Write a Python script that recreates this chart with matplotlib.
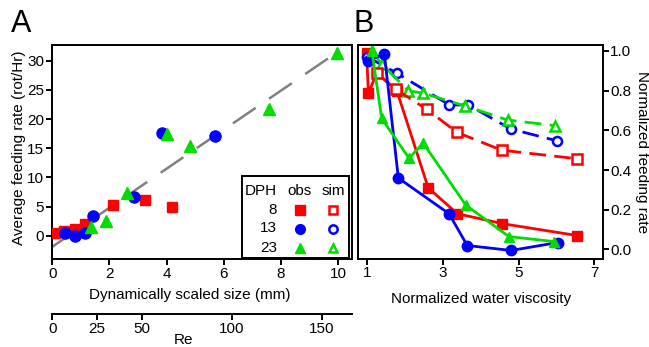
import matplotlib
matplotlib.use("Agg")
import matplotlib.pyplot as plt
import numpy as np

plt.rcParams['font.family'] = ['Liberation Sans', 'DejaVu Sans']

RED = '#ff0000'
BLUE = '#0000ff'
GREEN = '#00dd00'

# ---------------- Panel A data ----------------
a_x8 = [0.09, 0.41, 0.78, 1.14, 2.13, 3.24, 4.17]
a_y8 = [0.5, 0.86, 1.15, 2.0, 5.2, 6.2, 5.0]
a_x13 = [0.44, 0.78, 1.14, 1.43, 2.87, 3.82, 5.69]
a_y13 = [0.4, 0.0, 0.4, 3.3, 6.6, 17.7, 17.1]
a_x23 = [1.35, 1.87, 2.62, 4.0, 4.81, 7.58, 9.97]
a_y23 = [1.5, 2.6, 7.4, 17.4, 15.4, 21.7, 31.4]
fit_slope = 3.35
fit_intercept = -1.9
fit_range = [0.0, 9.85]
a_xticks = [0, 2, 4, 6, 8, 10]
a_yticks = [0, 5, 10, 15, 20, 25, 30]
re_ticks = [0, 25, 50, 100, 150]

# ---------------- Panel B data ----------------
b_obs8_x = [0.98, 1.03, 1.25, 1.78, 2.61, 3.38, 4.57, 6.55]
b_obs8_y = [0.99, 0.787, 0.89, 0.80, 0.31, 0.18, 0.13, 0.07]
b_sim8_x = [1.0, 1.25, 1.75, 2.57, 3.37, 4.55, 6.55]
b_sim8_y = [1.0, 0.888, 0.807, 0.706, 0.59, 0.50, 0.457]
b_obs13_x = [1.01, 1.45, 1.82, 3.16, 3.64, 4.8, 6.03]
b_obs13_y = [0.95, 0.985, 0.36, 0.18, 0.02, -0.005, 0.035]
b_sim13_x = [1.0, 1.78, 3.17, 3.67, 4.79, 6.0]
b_sim13_y = [0.97, 0.888, 0.728, 0.728, 0.607, 0.548]
b_obs23_x = [1.12, 1.38, 2.1, 2.48, 3.6, 4.74, 5.93]
b_obs23_y = [1.0, 0.66, 0.46, 0.535, 0.224, 0.065, 0.04]
b_sim23_x = [1.12, 1.38, 2.08, 2.48, 3.58, 4.71, 5.96]
b_sim23_y = [1.0, 0.934, 0.80, 0.787, 0.723, 0.652, 0.624]
b_xticks = [1, 3, 5, 7]
b_yticks = [0.0, 0.2, 0.4, 0.6, 0.8, 1.0]

W, H = 649, 347
fig = plt.figure(figsize=(W / 100, H / 100), dpi=100)

def rect(l, r, t, b):
    return [l / W, 1 - b / H, (r - l) / W, (b - t) / H]

SPINE_W = 1.4
FS = 11

# ---------------- Panel A ----------------
axA = fig.add_axes(rect(52.3, 351.7, 45, 259))
axA.set_xlim(0, 10.47)
axA.set_ylim(-4.0, 32.71)
xf = np.array(fit_range)
axA.plot(xf, fit_slope * xf + fit_intercept, color='#808080', lw=1.8,
         dashes=(11, 6.5), zorder=1)
ms = 7.5
axA.plot(a_x8, a_y8, 's', color=RED, ms=ms, mec=RED, zorder=3)
axA.plot(a_x13, a_y13, 'o', color=BLUE, ms=ms + 0.5, mec=BLUE, zorder=3)
axA.plot(a_x23, a_y23, '^', color=GREEN, ms=ms + 0.5, mec=GREEN, zorder=3)
axA.set_xticks(a_xticks)
axA.set_yticks(a_yticks)
axA.tick_params(direction='out', length=4, width=SPINE_W, labelsize=FS, pad=2)
for s in axA.spines.values():
    s.set_linewidth(SPINE_W)
axA.set_xlabel('Dynamically scaled size (mm)', fontsize=FS)
axA.xaxis.set_label_coords(0.46, -0.135)
axA.set_ylabel('Average feeding rate (rot/Hr)', fontsize=FS, labelpad=1)
axA.yaxis.label.set_y(0.52)

# legend table
t = axA.transAxes
def ax_xy(px, py):
    return ((px - 52.3) / (351.7 - 52.3), (259 - py) / (259 - 45))
lx0, ly0 = ax_xy(241.7, 258)
lx1, ly1 = ax_xy(349.0, 175.7)
axA.add_patch(plt.Rectangle((lx0, ly0), lx1 - lx0, ly1 - ly0, transform=t,
                            fill=True, facecolor='white', edgecolor='black',
                            lw=SPINE_W, zorder=5))
hx, hy = ax_xy(277, 190.7)
axA.text(hx, hy, 'DPH', transform=t, ha='right', va='center', fontsize=FS, zorder=6)
ox, _ = ax_xy(300, 0)
sx, _ = ax_xy(333, 0)
axA.text(ox, hy, 'obs', transform=t, ha='center', va='center', fontsize=FS, zorder=6)
axA.text(sx, hy, 'sim', transform=t, ha='center', va='center', fontsize=FS, zorder=6)
rows = [('8', 's', RED, 210), ('13', 'o', BLUE, 228.5), ('23', '^', GREEN, 247.5)]
for lab, mk, col, py in rows:
    _, ry = ax_xy(0, py)
    axA.text(hx, ry, lab, transform=t, ha='right', va='center', fontsize=FS, zorder=6)
    axA.plot([ox], [ry], mk, color=col, ms=7, transform=t, zorder=6, clip_on=False)
    axA.plot([sx], [ry], mk, mfc='none', mec=col, mew=1.8, ms=6, transform=t,
             zorder=6, clip_on=False)

# Re axis
axR = fig.add_axes(rect(52.3, 351.7, 313.3, 313.6))
axR.set_xlim(0, 166.7)
axR.set_ylim(0, 1)
axR.set_yticks([])
for k in ('left', 'right', 'top'):
    axR.spines[k].set_visible(False)
axR.spines['bottom'].set_linewidth(SPINE_W)
axR.patch.set_visible(False)
axR.set_xticks(re_ticks)
axR.tick_params(direction='out', length=4, width=SPINE_W, labelsize=FS, pad=2)
axR.set_xlabel('Re', fontsize=FS, labelpad=-2)
axR.xaxis.label.set_x(0.437)

# ---------------- Panel B ----------------
axB = fig.add_axes(rect(358.3, 603.3, 45, 259))
axB.set_xlim(0.762, 7.235)
axB.set_ylim(-0.048, 1.030)
lw = 2.0
mB = 7
dash = (6, 3)
# observed 8 DPH drawn first; its markers under simulated hollow squares are hidden
axB.plot(b_obs8_x, b_obs8_y, '-s', color=RED, lw=lw, ms=mB + 0.5, zorder=2)
axB.plot(b_sim8_x, b_sim8_y, '--s', color=RED, lw=lw, dashes=dash, mfc='white',
         mec=RED, mew=1.8, ms=mB - 0.5, zorder=2.5, markevery=[1, 2, 3, 4, 5, 6])
axB.plot(b_sim13_x, b_sim13_y, '--o', color=BLUE, lw=lw, dashes=dash, mfc='white',
         mec=BLUE, mew=1.8, ms=mB - 0.5, zorder=2)
axB.plot(b_sim23_x, b_sim23_y, '--^', color=GREEN, lw=lw, dashes=dash, mfc='white',
         mec=GREEN, mew=1.8, ms=mB - 0.5, zorder=2)
axB.plot(b_obs13_x, b_obs13_y, '-o', color=BLUE, lw=lw, ms=mB + 0.5, zorder=3)
axB.plot(b_obs23_x, b_obs23_y, '-^', color=GREEN, lw=lw, ms=mB + 0.5, zorder=3)
axB.set_xticks(b_xticks)
axB.set_yticks(b_yticks)
axB.set_yticklabels([f'{v:.1f}' for v in b_yticks])
axB.yaxis.tick_right()
axB.yaxis.set_label_position('right')
axB.tick_params(direction='out', length=4, width=SPINE_W, labelsize=FS, pad=1)
for s in axB.spines.values():
    s.set_linewidth(SPINE_W)
axB.set_xlabel('Normalized water viscosity', fontsize=FS)
axB.xaxis.set_label_coords(0.5, -0.152)
axB.set_ylabel('Normalized feeding rate', fontsize=FS, rotation=270, labelpad=13)

fig.text(11 / W, 1 - 24 / H, 'A', fontsize=22, va='center', ha='left')
fig.text(354 / W, 1 - 24 / H, 'B', fontsize=22, va='center', ha='left')

fig.savefig('out.png', dpi=100)
